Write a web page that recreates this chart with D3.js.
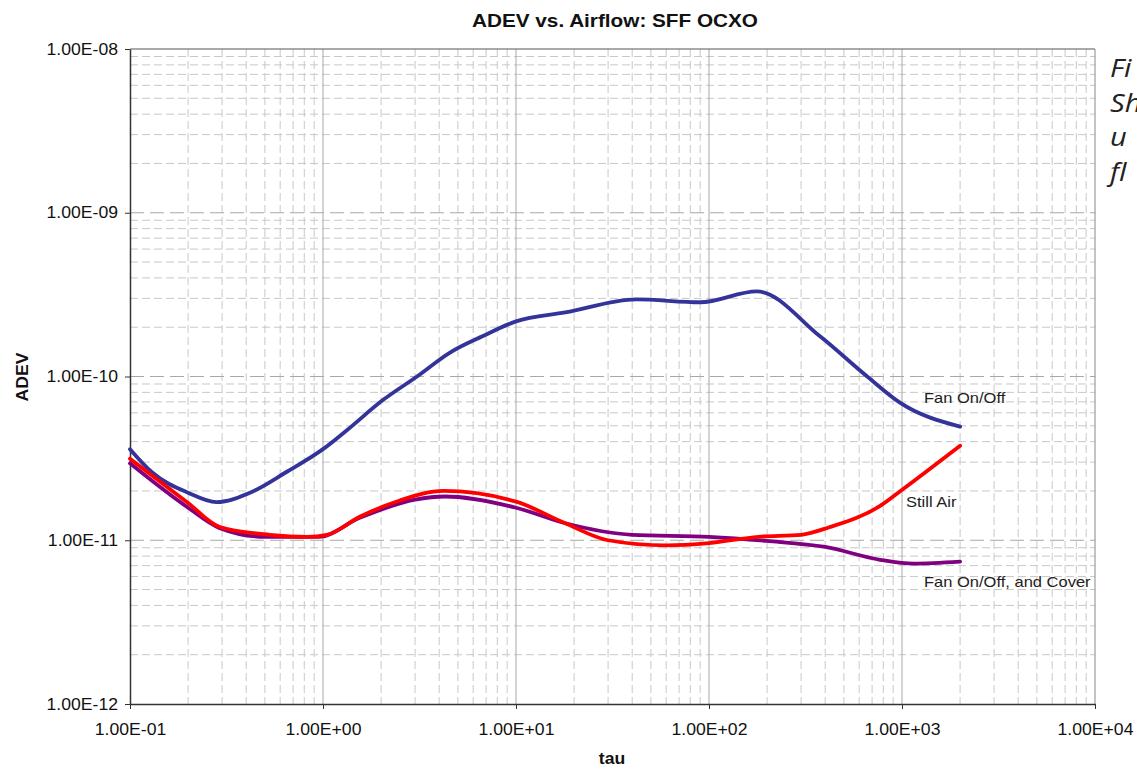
<!DOCTYPE html>
<html><head><meta charset="utf-8">
<script src="https://cdn.jsdelivr.net/npm/d3@7"></script>
<style>
html,body{margin:0;padding:0;background:#fff;overflow:hidden;}
svg{display:block;font-family:"Liberation Sans",Arial,sans-serif;}
</style></head>
<body>
<svg id="chart" width="1137" height="771"></svg>
<script>
// ---- data ----
const title = "ADEV vs. Airflow: SFF OCXO";
const xLabel = "tau";
const yLabel = "ADEV";
const xTickValues = [1e-1, 1e0, 1e1, 1e2, 1e3, 1e4];
const xTickLabels = ["1.00E-01","1.00E+00","1.00E+01","1.00E+02","1.00E+03","1.00E+04"];
const yTickValues = [1e-12, 1e-11, 1e-10, 1e-9, 1e-8];
const yTickLabels = ["1.00E-12","1.00E-11","1.00E-10","1.00E-09","1.00E-08"];
const seriesNames = ["Fan On/Off", "Still Air", "Fan On/Off, and Cover"];

const fanTau  = [0.1, 0.13, 0.2, 0.28, 0.43, 0.65, 1.0, 1.33, 2.05, 3.07, 4.55, 6.7, 10, 18, 42, 90, 177, 376, 660, 980, 2000];
const fanAdev = [3.6e-11, 2.6e-11, 1.95e-11, 1.71e-11, 1.98e-11, 2.62e-11, 3.6e-11, 4.7e-11, 7.2e-11, 1.0e-10, 1.4e-10, 1.76e-10, 2.17e-10, 2.46e-10, 2.96e-10, 2.84e-10, 3.31e-10, 1.76e-10, 1.0e-10, 6.9e-11, 4.94e-11];

const stillTau  = [0.1, 0.2, 0.29, 0.53, 0.83, 1.05, 1.55, 2.5, 4.2, 10, 18, 30, 60, 100, 180, 300, 420, 770, 1010, 2000];
const stillAdev = [3.15e-11, 1.69e-11, 1.21e-11, 1.08e-11, 1.05e-11, 1.08e-11, 1.39e-11, 1.75e-11, 2.0e-11, 1.72e-11, 1.27e-11, 1.0e-11, 9.3e-12, 9.6e-12, 1.05e-11, 1.08e-11, 1.2e-11, 1.62e-11, 2.05e-11, 3.78e-11];

const coverTau  = [0.1, 0.2, 0.29, 0.5, 0.95, 1.55, 3.0, 4.3, 10, 18, 40, 100, 200, 400, 770, 1150, 2000];
const coverAdev = [2.95e-11, 1.58e-11, 1.19e-11, 1.05e-11, 1.05e-11, 1.37e-11, 1.77e-11, 1.85e-11, 1.58e-11, 1.27e-11, 1.08e-11, 1.05e-11, 9.9e-12, 9.1e-12, 7.6e-12, 7.2e-12, 7.4e-12];

// caption at the right edge, only its visible start is shown in the reference
const captionLines = ["Fi", "Sh", "u", "fl"];

// ---- layout ----
const svg = d3.select("#chart");
const L = 130, R = 1095, T = 49, B = 704;
const x = d3.scaleLog().domain([1e-1, 1e4]).range([L, R]);
const y = d3.scaleLog().domain([1e-12, 1e-8]).range([B, T]);
const STRETCH = 1.1;
function stretch(sel, k) {
  sel.each(function() {
    const w = this.getComputedTextLength();
    d3.select(this).attr("textLength", w * k).attr("lengthAdjust", "spacingAndGlyphs");
  });
}

// grid
const g = svg.append("g");
const minorX = [], minorY = [];
for (let e = -1; e < 4; e++) for (let k = 2; k <= 9; k++) minorX.push(k * Math.pow(10, e));
for (let e = -12; e < -8; e++) for (let k = 2; k <= 9; k++) minorY.push(k * Math.pow(10, e));

g.selectAll(".mx").data(minorX).join("line")
  .attr("x1", d => x(d)).attr("x2", d => x(d)).attr("y1", T).attr("y2", B)
  .attr("stroke", "#c8c8c8").attr("stroke-width", 1).attr("stroke-dasharray", "8,4");
g.selectAll(".my").data(minorY).join("line")
  .attr("x1", L).attr("x2", R).attr("y1", d => y(d)).attr("y2", d => y(d))
  .attr("stroke", "#c8c8c8").attr("stroke-width", 1).attr("stroke-dasharray", "8,4");
g.selectAll(".Mx").data(xTickValues.slice(1, -1)).join("line")
  .attr("x1", d => x(d)).attr("x2", d => x(d)).attr("y1", T).attr("y2", B)
  .attr("stroke", "#a8a8a8").attr("stroke-width", 1);
g.selectAll(".My").data(yTickValues.slice(1, -1)).join("line")
  .attr("x1", L).attr("x2", R).attr("y1", d => y(d)).attr("y2", d => y(d))
  .attr("stroke", "#a8a8a8").attr("stroke-width", 1).attr("stroke-dasharray", "14,6");

// frame
svg.append("line").attr("x1", L).attr("x2", R).attr("y1", T).attr("y2", T).attr("stroke", "#555");
svg.append("line").attr("x1", R).attr("x2", R).attr("y1", T).attr("y2", B).attr("stroke", "#888");

// axes
const xAxis = d3.axisBottom(x).tickValues(xTickValues).tickFormat((d, i) => xTickLabels[i]).tickSize(5).tickSizeOuter(0).tickPadding(15);
const yAxis = d3.axisLeft(y).tickValues(yTickValues).tickFormat((d, i) => yTickLabels[i]).tickSize(5).tickSizeOuter(0).tickPadding(7);
const gx = svg.append("g").attr("transform", `translate(0,${B})`).call(xAxis);
const gy = svg.append("g").attr("transform", `translate(${L},0)`).call(yAxis);
[gx, gy].forEach(a => {
  a.select(".domain").attr("stroke", "#333").attr("stroke-width", 1.5);
  a.selectAll(".tick line").attr("stroke", "#333");
  a.selectAll(".tick text").attr("font-size", 16).attr("fill", "#111")
    .attr("font-family", "Liberation Sans, Arial, sans-serif");
  stretch(a.selectAll(".tick text"), STRETCH);
});

// series
const line = d3.line().x(d => x(d[0])).y(d => y(d[1])).curve(d3.curveMonotoneX);
const series = [
  {tau: fanTau, adev: fanAdev, color: "#333399"},
  {tau: stillTau, adev: stillAdev, color: "#ff0000"},
  {tau: coverTau, adev: coverAdev, color: "#800080"}
];
[series[0], series[2], series[1]].forEach(s => {
  svg.append("path").datum(s.tau.map((t, i) => [t, s.adev[i]]))
    .attr("d", line).attr("fill", "none").attr("stroke", s.color)
    .attr("stroke-width", 3.8).attr("stroke-linejoin", "round").attr("stroke-linecap", "round");
});

// series labels
const labelPos = [[924, 403], [906, 507], [924, 587]];
seriesNames.forEach((n, i) => {
  const t = svg.append("text").attr("x", labelPos[i][0]).attr("y", labelPos[i][1])
    .attr("font-size", 15).attr("fill", "#222").text(n);
  stretch(t, STRETCH);
});

// title & axis titles
const tt = svg.append("text").attr("x", 615).attr("y", 27).attr("text-anchor", "middle")
  .attr("font-size", 18).attr("font-weight", "bold").attr("fill", "#111").text(title);
tt.attr("textLength", 286).attr("lengthAdjust", "spacingAndGlyphs");
const xt = svg.append("text").attr("x", 612).attr("y", 764).attr("text-anchor", "middle")
  .attr("font-size", 16).attr("font-weight", "bold").attr("fill", "#111").text(xLabel);
stretch(xt, STRETCH);
const yt = svg.append("text").attr("transform", "translate(28,377) rotate(-90)").attr("text-anchor", "middle")
  .attr("font-size", 16).attr("font-weight", "bold").attr("fill", "#111").text(yLabel);
stretch(yt, STRETCH);

// cut-off caption at right
captionLines.forEach((c, i) => {
  const t = svg.append("text").attr("x", 1110).attr("y", 77 + i * 34.7)
    .attr("font-family", "Open Sans, sans-serif").attr("font-style", "italic")
    .attr("font-size", 26).attr("fill", "#222").text(c);
  stretch(t, 1.12);
});
</script>
</body></html>
